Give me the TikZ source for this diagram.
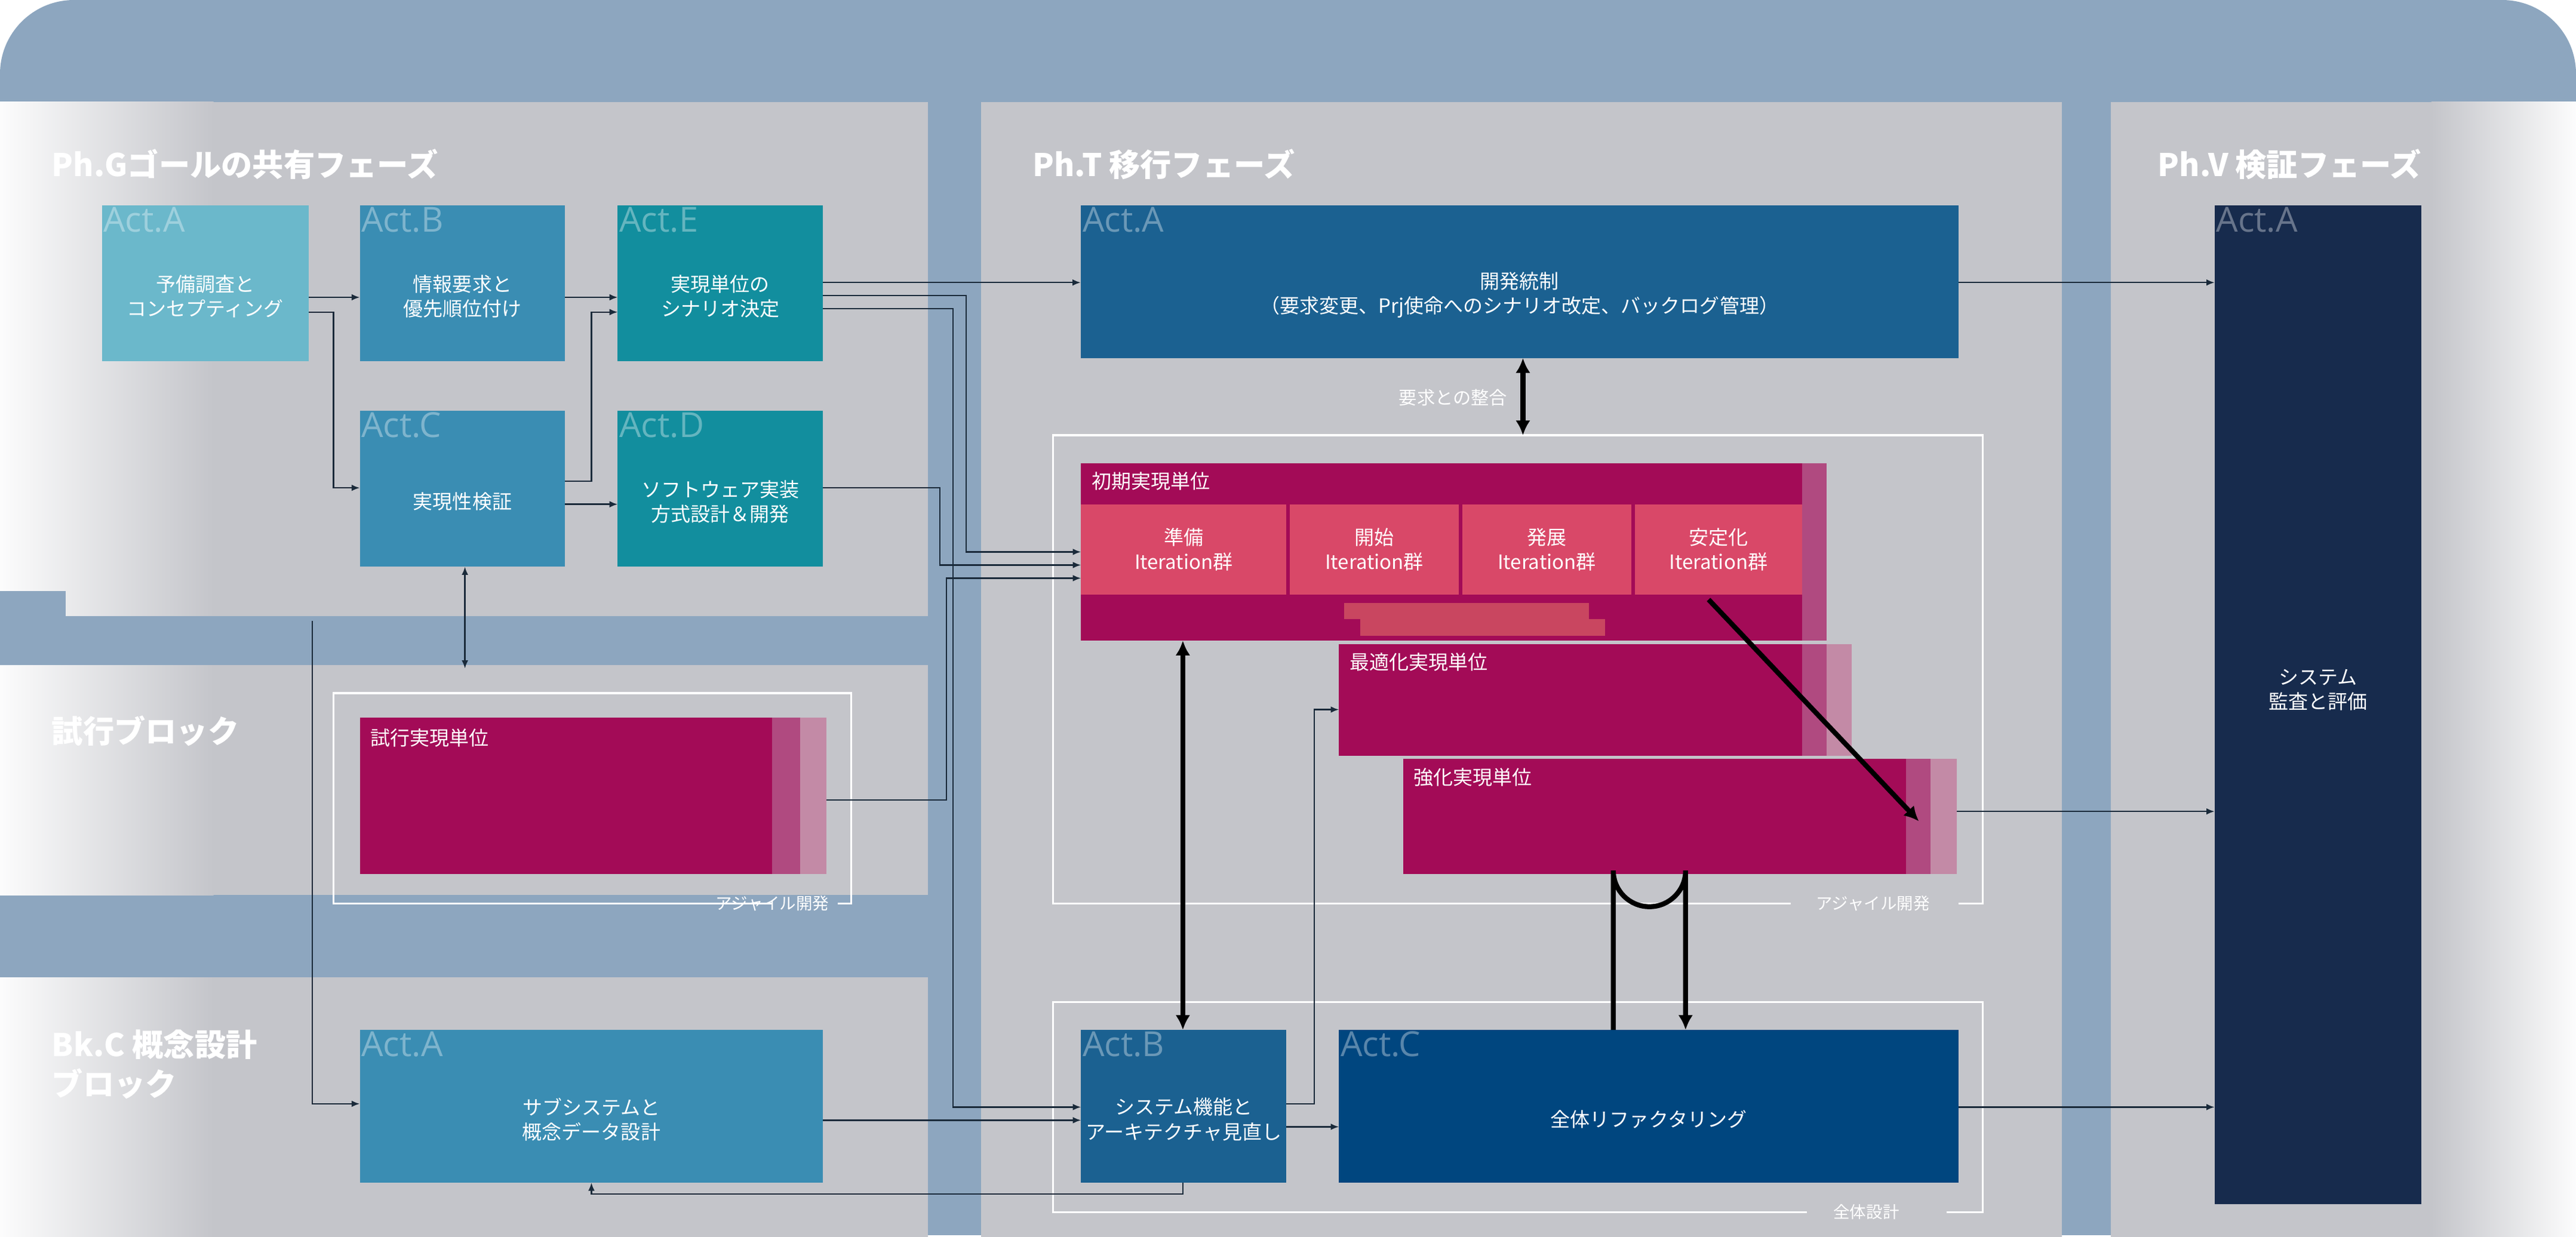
\documentclass[tikz,border=0pt]{standalone}
\usepackage{fontspec}
\setmainfont{Noto Sans CJK JP}
\newfontfamily\actfont{Open Sans}
\usetikzlibrary{fit,arrows.meta,calc}
\definecolor{band}{HTML}{8DA6BF}
\definecolor{panel}{HTML}{C4C5CA}
\definecolor{cA}{HTML}{6BB8CB}
\definecolor{cB}{HTML}{3A8DB3}
\definecolor{cE}{HTML}{128E9E}
\definecolor{cT}{HTML}{1B6191}
\definecolor{cTC}{HTML}{00467F}
\definecolor{cV}{HTML}{172B4D}
\definecolor{mag}{HTML}{A30B57}
\definecolor{magS}{HTML}{B04A80}
\definecolor{magL}{HTML}{C38AA6}
\definecolor{iter}{HTML}{D94868}
\definecolor{bar}{HTML}{C94660}
\definecolor{line}{HTML}{1A2A3A}
\definecolor{thick}{HTML}{1C2B52}
\tikzset{
 boxx/.style={inner sep=0pt,draw=none},
 acttxt/.style={text=white,font=\fontsize{12}{15}\selectfont,align=center},
 actlbl/.style={text=white,opacity=0.35,font=\actfont\fontsize{21}{21}\selectfont,anchor=north west,inner sep=1pt},
 ttl/.style={text=white,font=\bfseries\fontsize{19}{24}\selectfont,anchor=west,align=left},
 conn/.style={line,line width=0.9pt,-{Latex[length=5pt,width=4pt]}},
 bconn/.style={line,line width=0.9pt,{Latex[length=5pt,width=4pt]}-{Latex[length=5pt,width=4pt]}},
 tconn/.style={thick,line width=3pt,-{Latex[length=9pt,width=9pt]}},
 tbconn/.style={thick,line width=3pt,{Latex[length=9pt,width=9pt]}-{Latex[length=9pt,width=9pt]}},
 frm/.style={draw=white,line width=1.2pt},
 frmlbl/.style={text=white,font=\fontsize{10}{12}\selectfont,fill=panel,inner sep=3pt},
}
\newcommand{\mybox}[8]{%
 \node[boxx,fill=#6,fit={(#2,#3)(#4,#5)}] (#1) {};
 \node[actlbl] at (#1.north west) {#7};
 \node[acttxt] at ($(#1.center)+(0,8)$) {#8};}
\begin{document}
\begin{tikzpicture}[x=1pt,y=-1pt]
\useasboundingbox (0,0) rectangle (1568,753);
% background
\fill[band,rounded corners=45pt] (0,0) rectangle (1568,753);
\fill[white] (0,753) rectangle (1568,752);
\fill[panel] (0,62) rectangle (565,375);
\fill[panel] (0,405) rectangle (565,545);
\fill[panel] (0,595) rectangle (565,753);
\fill[panel] (597,62) rectangle (1255,753);
\fill[panel] (1285,62) rectangle (1568,753);
\shade[left color=white!95!panel,right color=panel] (0,62) rectangle (130,375);
\shade[left color=white!95!panel,right color=panel] (0,405) rectangle (130,545);
\shade[left color=white!95!panel,right color=panel] (0,595) rectangle (130,753);
\shade[right color=white!95!panel,left color=panel] (1480,62) rectangle (1568,753);
\fill[band] (0,360) rectangle (40,375);
% titles
\node[ttl] (tg) at (28,100) {Ph.Gゴールの共有フェーズ};
\node[ttl] (tt) at (625,100) {Ph.T 移行フェーズ};
\node[ttl] (tv) at (1310,100) {Ph.V 検証フェーズ};
\node[ttl] (tb) at (28,445) {試行ブロック};
\node[ttl] (tc) at (28,648) {Bk.C 概念設計\\ブロック};
% frames
\draw[frm] (1090,550) -- (641,550) -- (641,265) -- (1207,265) -- (1207,550) -- (1192,550);
\node[frmlbl,fill=none] (agl) at (1140,550) {アジャイル開発};
\draw[frm] (470,550) -- (203,550) -- (203,422) -- (518,422) -- (518,550) -- (510,550);
\node[frmlbl,fill=none] (agl2) at (470,550) {アジャイル開発};
\draw[frm] (1100,738) -- (641,738) -- (641,610) -- (1207,610) -- (1207,738) -- (1185,738);
\node[frmlbl,fill=none] (zt) at (1136,738) {全体設計};
% Ph.G boxes
\mybox{ga}{62}{125}{188}{220}{cA}{Act.A}{予備調査と\\コンセプティング}
\mybox{gb}{219}{125}{344}{220}{cB}{Act.B}{情報要求と\\優先順位付け}
\mybox{ge}{376}{125}{501}{220}{cE}{Act.E}{実現単位の\\シナリオ決定}
\mybox{gc}{219}{250}{344}{345}{cB}{Act.C}{実現性検証}
\mybox{gd}{376}{250}{501}{345}{cE}{Act.D}{ソフトウェア実装\\方式設計＆開発}
\mybox{ta}{658}{125}{1192}{218}{cT}{Act.A}{開発統制\\（要求変更、Prj使命へのシナリオ改定、バックログ管理）}
\node[boxx,fill=cV,fit={(1348,125)(1474,733)}] (va) {};
\node[actlbl] at (va.north west) {Act.A};
\node[acttxt] at (1411,420) {システム\\監査と評価};
\mybox{bka}{219}{627}{501}{720}{cB}{Act.A}{サブシステムと\\概念データ設計}
\mybox{tb}{658}{627}{783}{720}{cT}{Act.B}{システム機能と\\アーキテクチャ見直し}
\mybox{tc}{815}{627}{1192}{720}{cTC}{Act.C}{全体リファクタリング}
% trial unit
\fill[magL] (487,437) rectangle (503,532);
\fill[magS] (470,437) rectangle (487,532);
\node[boxx,fill=mag,fit={(219,437)(470,532)}] (sk) {};
\node[text=white,font=\fontsize{12}{14}\selectfont,anchor=north west] at (222,440) {試行実現単位};
% initial unit
\fill[magS] (1097,282) rectangle (1112,390);
\node[boxx,fill=mag,fit={(658,282)(1097,390)}] (sh) {};
\node[text=white,font=\fontsize{12}{14}\selectfont,anchor=north west] at (661,284) {初期実現単位};
\node[boxx,fill=iter,fit={(658,307)(783,362)}] (i1) {};
\node[boxx,fill=iter,fit={(785,307)(888,362)}] (i2) {};
\node[boxx,fill=iter,fit={(890,307)(993,362)}] (i3) {};
\node[boxx,fill=iter,fit={(995,307)(1097,362)}] (i4) {};
\node[acttxt] at (i1) {準備\\Iteration群};
\node[acttxt] at (i2) {開始\\Iteration群};
\node[acttxt] at (i3) {発展\\Iteration群};
\node[acttxt] at (i4) {安定化\\Iteration群};
\fill[bar] (828,377) rectangle (977,387);
\fill[bar] (818,367) rectangle (967,377);
% optimization
\fill[magL] (1112,392) rectangle (1127,460);
\fill[magS] (1097,392) rectangle (1112,460);
\node[boxx,fill=mag,fit={(815,392)(1097,460)}] (so) {};
\node[text=white,font=\fontsize{12}{14}\selectfont,anchor=north west] at (818,394) {最適化実現単位};
% strengthen
\fill[magL] (1175,462) rectangle (1191,532);
\fill[magS] (1160,462) rectangle (1175,532);
\node[boxx,fill=mag,fit={(854,462)(1160,532)}] (ss) {};
\node[text=white,font=\fontsize{12}{14}\selectfont,anchor=north west] at (857,464) {強化実現単位};
\coordinate (ssr) at (1191,494);
% thin connectors
\draw[conn] (188,181) -- (219,181);
\draw[conn] (188,190) -- (203,190) -- (203,297) -- (219,297);
\draw[conn] (344,181) -- (376,181);
\draw[conn] (344,293) -- (360,293) -- (360,190) -- (376,190);
\draw[conn] (344,307) -- (376,307);
\draw[conn] (501,172) -- (ta.west |- 0,172);
\draw[conn] (501,180) -- (588,180) -- (588,336) -- (658,336);
\draw[conn] (501,297) -- (572,297) -- (572,344) -- (658,344);
\draw[conn] (503,487) -- (576,487) -- (576,352) -- (658,352);
\draw[conn] (501,188) -- (580,188) -- (580,674) -- (658,674);
\draw[conn] (501,682) -- (658,682);
\draw[bconn] (283,345) -- (283,407);
\draw[conn] (190,378) -- (190,672) -- (219,672);
\draw[conn] (720,720) -- (720,727) -- (360,727) -- (360,720);
\draw[conn] (1192,172) -- (1348,172);
\draw[conn] (783,672) -- (800,672) -- (800,432) -- (815,432);
\draw[conn] (783,686) -- (815,686);
\draw[conn] (ssr) -- (1348,494);
\draw[conn] (1192,674) -- (1348,674);
% thick connectors
\draw[tbconn] (927,218) -- (927,265);
\node[text=white,font=\fontsize{11}{13}\selectfont,anchor=east] (yk) at (921,242) {要求との整合};
\draw[tbconn] (720,390) -- (720,627);
\draw[tconn] (1040,365) -- (1168,500);
\draw[tconn] (982,627) -- (982,530) arc[start angle=180,end angle=0,radius=22] -- (1026,627);
\end{tikzpicture}
\end{document}
